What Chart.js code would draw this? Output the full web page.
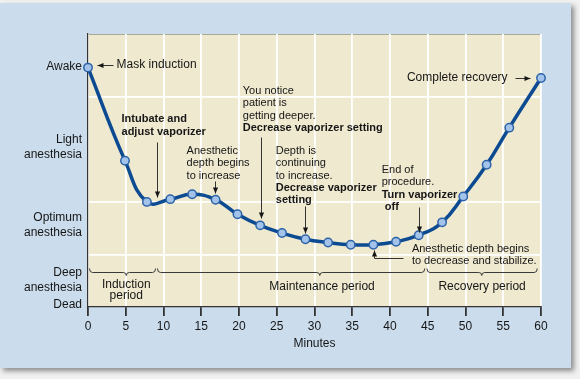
<html>
<head>
<style>
  body { margin: 0; background: #f1f1f1; }
  #panel { position: absolute; left: 0; top: 3px; width: 571px; height: 365px; background: #cbdcec; box-shadow: 3px 3px 5px #8c8c8c; }
  #wrap { position: absolute; left: 0; top: 0; width: 580px; height: 379px; }
</style>
</head>
<body>
  <div id="panel"></div>
  <div id="wrap"><canvas id="myChart" width="580" height="379"></canvas></div>
  <script src="https://cdn.jsdelivr.net/npm/chart.js"></script>
  <script>
    // data (minutes vs depth level, 0 = dead .. 100 = top of plot)
    const minutes = [0, 4.9, 7.8, 10.9, 13.8, 16.9, 19.8, 22.8, 25.7, 28.8, 31.8, 34.8, 37.8, 40.8, 43.8, 46.9, 49.7, 52.8, 55.8, 60];
    const depth = [87.7, 53.6, 38.5, 39.5, 41.3, 39.3, 34.0, 29.9, 27.1, 24.8, 23.6, 22.8, 22.8, 23.9, 26.3, 31.0, 40.5, 52.1, 65.7, 83.9];

    // y axis labels and where they sit
    const stateLabels = ['Awake', ['Light', 'anesthesia'], ['Optimum', 'anesthesia'], ['Deep', 'anesthesia'], 'Dead'];
    const stateLevels = [88, 58.4, 30.1, 10, 0.7];
    const gridLevels = [19, 38.5, 77];

    // text notes (x in minutes, y in depth units), '*' = bold line
    const notes = [
      { x: 3.78, y: 88.6, size: 12, lines: ['Mask induction'] },
      { x: 4.44, y: 68.9, size: 11, lh: 13, lines: ['*Intubate and', '*adjust vaporizer'] },
      { x: 13.06, y: 57.1, size: 11, lines: ['Anesthetic', 'depth begins', 'to increase'] },
      { x: 20.5, y: 79.1, size: 11, lines: ['You notice', 'patient is', 'getting deeper.', '*Decrease vaporizer setting'] },
      { x: 24.87, y: 57.1, size: 11, lines: ['Depth is', 'continuing', 'to increase.', '*Decrease vaporizer', '*setting'] },
      { x: 38.9, y: 50.2, size: 11, lines: ['End of', 'procedure.', '*Turn vaporizer', '* off'] },
      { x: 42.9, y: 21.1, size: 11, lh: 11.7, lines: ['Anesthetic depth begins', 'to decrease and stabilize.'] },
      { x: 42.24, y: 83.9, size: 12, lines: ['Complete recovery'] },
      { x: 5.07, y: 8.06, size: 12, lh: 10.7, align: 'center', lines: ['Induction', 'period'] },
      { x: 31.0, y: 7.3, size: 12, align: 'center', lines: ['Maintenance period'] },
      { x: 52.2, y: 7.3, size: 12, align: 'center', lines: ['Recovery period'] }
    ];

    // arrows as polylines, head at the last point
    const arrows = [
      [[3.25, 88.6], [1.2, 88.6]],
      [[9.18, 60.4], [9.18, 40.3]],
      [[16.87, 46.2], [16.87, 41.8]],
      [[22.88, 62.3], [22.88, 32.6]],
      [[28.8, 37.0], [28.8, 27.1]],
      [[43.8, 36.6], [43.8, 27.5]],
      [[41.7, 18.0], [37.86, 18.0], [37.86, 20.9]],
      [[56.55, 83.9], [58.54, 83.9]]
    ];

    // period braces
    const braceLevel = 13.0;
    const braces = [
      { from: 0.2, to: 8.95, mid: 5.07 },
      { from: 9.2, to: 44.6, mid: 30.7 },
      { from: 44.9, to: 59.5, mid: 52.15 }
    ];

    const FONT = "'Liberation Sans', Arial, sans-serif";
    const INK = '#161616';

    function arrowHead(ctx, x1, y1, x2, y2) {
      const ang = Math.atan2(y2 - y1, x2 - x1);
      const len = 6, w = 2.6;
      ctx.beginPath();
      ctx.moveTo(x2, y2);
      ctx.lineTo(x2 - len * Math.cos(ang) + w * Math.sin(ang), y2 - len * Math.sin(ang) - w * Math.cos(ang));
      ctx.lineTo(x2 - len * Math.cos(ang) - w * Math.sin(ang), y2 - len * Math.sin(ang) + w * Math.cos(ang));
      ctx.closePath();
      ctx.fill();
    }

    const notesPlugin = {
      id: 'notes',
      beforeDraw(chart) {
        const { ctx, chartArea: a } = chart;
        ctx.save();
        ctx.fillStyle = '#eee9cf';
        ctx.fillRect(a.left, a.top, a.right - a.left, a.bottom - a.top);
        ctx.strokeStyle = '#a9a795';
        ctx.lineWidth = 1;
        ctx.beginPath();
        ctx.moveTo(a.left, a.top + 0.5);
        ctx.lineTo(a.right, a.top + 0.5);
        ctx.stroke();
        ctx.restore();
      },
      afterDatasetsDraw(chart) {
        const { ctx } = chart;
        const xs = chart.scales.x, ys = chart.scales.y;
        const px = v => xs.getPixelForValue(v);
        const py = v => ys.getPixelForValue(v);
        ctx.save();
        ctx.fillStyle = INK;
        ctx.strokeStyle = '#333';
        ctx.textBaseline = 'middle';

        notes.forEach(n => {
          ctx.textAlign = n.align || 'left';
          const lh = n.lh || 12.3;
          n.lines.forEach((t, i) => {
            const bold = t[0] === '*';
            ctx.font = (bold ? 'bold ' : '') + n.size + 'px ' + FONT;
            ctx.fillText(bold ? t.slice(1) : t, px(n.x), py(n.y) + i * lh);
          });
        });

        ctx.lineWidth = 1;
        arrows.forEach(pts => {
          ctx.beginPath();
          pts.forEach((p, i) => {
            const X = Math.round(px(p[0])) + 0.5, Y = Math.round(py(p[1])) + 0.5;
            if (i === 0) ctx.moveTo(X, Y); else ctx.lineTo(X, Y);
          });
          ctx.stroke();
          const a = pts[pts.length - 2], b = pts[pts.length - 1];
          arrowHead(ctx, Math.round(px(a[0])) + 0.5, Math.round(py(a[1])) + 0.5, Math.round(px(b[0])) + 0.5, Math.round(py(b[1])) + 0.5);
        });

        // braces
        ctx.strokeStyle = '#3a3a3a';
        ctx.lineWidth = 1;
        const by = Math.round(py(braceLevel)) + 0.5;
        braces.forEach(b => {
          const x1 = px(b.from), x2 = px(b.to), xm = px(b.mid);
          ctx.beginPath();
          ctx.moveTo(x1, by - 4);
          ctx.quadraticCurveTo(x1, by, x1 + 3, by);
          ctx.lineTo(xm - 3, by);
          ctx.quadraticCurveTo(xm, by, xm, by + 3);
          ctx.quadraticCurveTo(xm, by, xm + 3, by);
          ctx.lineTo(x2 - 3, by);
          ctx.quadraticCurveTo(x2, by, x2, by - 4);
          ctx.stroke();
        });
        ctx.restore();
      }
    };

    const chartCanvas = document.querySelector('#myChart');

    new Chart(chartCanvas, {
      type: 'line',
      data: {
        datasets: [{
          data: minutes.map((m, i) => ({ x: m, y: depth[i] })),
          borderColor: '#0c4a92',
          borderWidth: 3.5,
          tension: 0.45,
          pointRadius: 4.2,
          pointBackgroundColor: '#a3c3ea',
          pointBorderColor: '#2c63a8',
          pointBorderWidth: 1.5,
          clip: false
        }]
      },
      options: {
        responsive: false,
        animation: false,
        layout: { padding: { top: 34, right: 39, left: 0, bottom: 0 } },
        plugins: { legend: { display: false }, tooltip: { enabled: false } },
        scales: {
          x: {
            type: 'linear',
            min: 0,
            max: 60,
            ticks: { stepSize: 5, color: INK, padding: 3, font: { family: FONT, size: 12 } },
            grid: { color: '#ffffff', lineWidth: 1.8, tickColor: '#333', tickLength: 9 },
            border: { color: '#333', width: 1.2 },
            title: { display: true, text: 'Minutes', color: INK, font: { family: FONT, size: 12 }, padding: { top: 0, bottom: 28 } },
            afterFit(scale) { scale.height = 72; }
          },
          y: {
            position: 'left',
            min: 0,
            max: 100,
            afterBuildTicks(scale) { scale.ticks = stateLevels.map(v => ({ value: v })); },
            ticks: {
              color: INK,
              padding: 6,
              font: { family: FONT, size: 12, lineHeight: 1.25 },
              callback: (v, i) => stateLabels[i]
            },
            grid: { drawOnChartArea: false, drawTicks: false },
            border: { color: '#333', width: 1.2 },
            afterFit(scale) { scale.width = 88; }
          },
          yg: {
            position: 'left',
            min: 0,
            max: 100,
            afterBuildTicks(scale) { scale.ticks = gridLevels.map(v => ({ value: v })); },
            ticks: { display: false },
            grid: { color: '#ffffff', lineWidth: 1.8, drawTicks: false },
            border: { display: false },
            afterFit(scale) { scale.width = 0; }
          }
        }
      },
      plugins: [notesPlugin]
    });
  </script>
</body>
</html>
